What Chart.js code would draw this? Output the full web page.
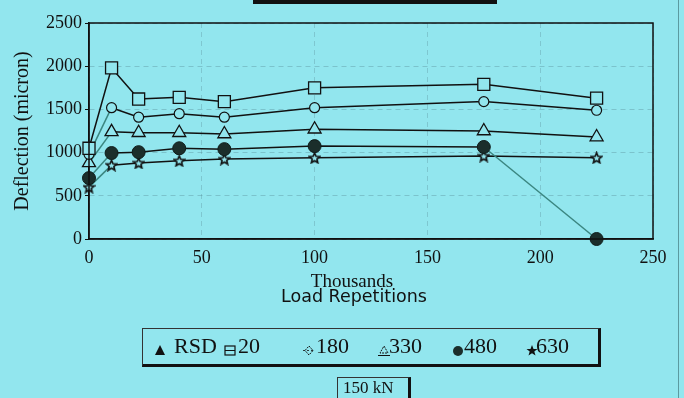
<!DOCTYPE html>
<html>
<head>
<meta charset="utf-8">
<script src="https://cdn.jsdelivr.net/npm/chart.js@4/dist/chart.umd.min.js"></script>
<style>
  html, body { margin: 0; padding: 0; }
  body { width: 684px; height: 398px; background: #92e6ee; position: relative; overflow: hidden;
         font-family: "Liberation Serif", "Times New Roman", serif; color: #111; }
  #wrap { position: absolute; left: 0; top: 0; width: 684px; height: 398px; }
  .abs { position: absolute; white-space: nowrap; }
  #topbar { left: 253px; top: 0; width: 244px; height: 4px; background: #111; }
  #edge { left: 678px; top: 0; width: 1px; height: 398px; background: #5b9aa0; }
  #thousands { left: 352px; top: 281px; transform: translate(-50%, -50%); font-size: 19px; }
  #xtitle { left: 354px; top: 296px; transform: translate(-50%, -50%); font-size: 17.5px;
            font-family: "DejaVu Sans", sans-serif; }
  #legend { left: 142px; top: 328px; width: 455px; height: 35px; border-left: 1px solid #333;
            border-top: 1px solid #333; border-right: 3px solid #111; border-bottom: 3px solid #111; }
  .ltext { position: absolute; top: 17px; transform: translateY(-50%); font-size: 22px; }
  .licon { position: absolute; top: 14px; }
  #kn { left: 337px; top: 377px; width: 70px; height: 21px; border-left: 1px solid #333;
        border-top: 1px solid #333; border-right: 3px solid #111; font-size: 17px; }
  #kn span { position: absolute; left: 5px; top: 0px; }
</style>
</head>
<body>
<div id="wrap"><canvas id="c" width="684" height="398"></canvas></div>
<div id="topbar" class="abs"></div>
<div id="edge" class="abs"></div>
<div id="thousands" class="abs">Thousands</div>
<div id="xtitle" class="abs">Load Repetitions</div>
<div id="legend" class="abs"></div>
<div id="kn" class="abs"><span>150 kN</span></div>
<script>
// ---------------- data ----------------
const loadReps = [0, 10, 22, 40, 60, 100, 175, 225];           // thousands
const seriesNames = ["RSD", "20", "180", "330", "480", "630"];
const deflRSD = [];
const defl20  = [1050, 1980, 1620, 1640, 1590, 1750, 1790, 1630];
const defl180 = [980, 1520, 1410, 1450, 1410, 1520, 1590, 1490];
const defl330 = [880, 1240, 1230, 1230, 1215, 1270, 1250, 1180];
const defl480 = [705, 995, 1005, 1050, 1040, 1075, 1065, 0];
const defl630 = [600, 855, 880, 905, 925, 940, 960, 940];
const xTicks = [0, 50, 100, 150, 200, 250];
const yTicks = [0, 500, 1000, 1500, 2000, 2500];

// ---------------- styling ----------------
const BG = '#92e6ee';
const INK = '#111';
const TEAL = '#3b8680';
const serif = '"Liberation Serif", "Times New Roman", serif';

function pts(arr) { return arr.map((v, i) => ({ x: loadReps[i], y: v })); }

function starImage(size, fill, stroke) {
  const c = document.createElement('canvas');
  c.width = size; c.height = size;
  const g = c.getContext('2d');
  const cx = size / 2, cy = size / 2 + 0.5, R = size / 2 - 1, r = R * 0.45;
  g.beginPath();
  for (let k = 0; k < 10; k++) {
    const ang = -Math.PI / 2 + k * Math.PI / 5;
    const rad = k % 2 === 0 ? R : r;
    const px = cx + rad * Math.cos(ang), py = cy + rad * Math.sin(ang);
    k === 0 ? g.moveTo(px, py) : g.lineTo(px, py);
  }
  g.closePath();
  g.fillStyle = fill; g.fill();
  g.lineWidth = 1.6; g.strokeStyle = stroke; g.stroke();
  return c;
}
const starPt = starImage(13, BG, INK);

function firstSegTeal(extraIdx) {
  return { borderColor: ctx => (ctx.p0DataIndex === 0 || ctx.p0DataIndex === extraIdx) ? TEAL : INK };
}

const datasets = [
  { label: seriesNames[0], data: pts(deflRSD), pointStyle: 'triangle', backgroundColor: INK, borderColor: INK },
  { label: seriesNames[1], data: pts(defl20), pointStyle: 'rect', pointRadius: 8.5,
    pointBackgroundColor: BG, pointBorderColor: INK, borderColor: INK, pointBorderWidth: 1.3 },
  { label: seriesNames[2], data: pts(defl180), pointStyle: 'circle', pointRadius: 5,
    pointBackgroundColor: BG, pointBorderColor: INK, borderColor: INK, pointBorderWidth: 1.2,
    segment: firstSegTeal(-1) },
  { label: seriesNames[3], data: pts(defl330), pointStyle: 'triangle', pointRadius: 7.5,
    pointBackgroundColor: BG, pointBorderColor: INK, borderColor: INK, pointBorderWidth: 1.3,
    segment: firstSegTeal(-1) },
  { label: seriesNames[4], data: pts(defl480), pointStyle: 'circle', pointRadius: 6.5,
    pointBackgroundColor: '#1b2e2b', pointBorderColor: '#0f1c1a', borderColor: INK, pointBorderWidth: 1,
    segment: firstSegTeal(6) },
  { label: seriesNames[5], data: pts(defl630), pointStyle: starPt,
    pointBackgroundColor: BG, pointBorderColor: INK, borderColor: INK,
    segment: firstSegTeal(-1) }
].map(d => Object.assign({ showLine: true, borderWidth: 1.5, clip: false, tension: 0 }, d));

const frame = {
  id: 'frame',
  afterDatasetsDraw(chart) {
    const a = chart.chartArea, g = chart.ctx;
    g.save();
    g.strokeStyle = INK; g.lineWidth = 1.5;
    g.strokeRect(a.left, a.top, a.right - a.left, a.bottom - a.top);
    g.restore();
  }
};

new Chart(document.getElementById('c'), {
  type: 'scatter',
  data: { datasets },
  options: {
    responsive: false,
    animation: false,
    layout: { padding: { left: 0, top: 23, right: 31, bottom: 0 } },
    plugins: { legend: { display: false }, tooltip: { enabled: false } },
    scales: {
      x: {
        type: 'linear', min: 0, max: 250,
        afterBuildTicks: s => { s.ticks = xTicks.map(v => ({ value: v })); },
        afterFit: s => { s.height = 159; },
        ticks: { color: INK, font: { family: serif, size: 18 }, padding: 8, maxRotation: 0,
                 callback: v => String(v) },
        grid: { color: 'rgba(80,130,140,0.3)', lineWidth: 1, drawTicks: false },
        border: { color: INK, width: 1.5, dash: [5, 4] }
      },
      y: {
        type: 'linear', min: 0, max: 2500,
        afterBuildTicks: s => { s.ticks = yTicks.map(v => ({ value: v })); },
        afterFit: s => { s.width = 89; },
        ticks: { color: INK, font: { family: serif, size: 18 }, padding: 3,
                 callback: v => String(v) },
        grid: { color: 'rgba(80,130,140,0.35)', lineWidth: 1, tickColor: INK, tickLength: 4,
                tickBorderDash: [] },
        border: { color: INK, width: 1.5, dash: [5, 4] },
        title: { display: true, text: 'Deflection (micron)', color: INK,
                 font: { family: serif, size: 20 }, padding: { top: 11, bottom: 0 } }
      }
    }
  },
  plugins: [frame]
});

// ---------------- legend (HTML, built from seriesNames) ----------------
const legendIconX = [10, 80, 159, 234, 308, 382];
const legendTextX = [31, 95, 173, 246, 321, 393];
function icon(name) {
  const s = (inner) => `<svg width="14" height="14" viewBox="0 0 14 14">${inner}</svg>`;
  switch (name) {
    case 'RSD': return s('<polygon points="7,2 12,12 2,12" fill="#111"/>');
    case '20':  return s('<rect x="2" y="3" width="10" height="9" fill="none" stroke="#111" stroke-width="1.2"/><line x1="2" y1="7.5" x2="12" y2="7.5" stroke="#111" stroke-width="1"/>');
    case '180': return s('<polygon points="7,3 11,7.5 7,12 3,7.5" fill="none" stroke="#111" stroke-width="1" stroke-dasharray="2,1"/><line x1="1" y1="7.5" x2="13" y2="7.5" stroke="#111" stroke-width="0.8" stroke-dasharray="2,2"/>');
    case '330': return s('<polygon points="7,3 11,10 3,10" fill="none" stroke="#111" stroke-width="1" stroke-dasharray="2,1"/><line x1="1" y1="12.5" x2="13" y2="12.5" stroke="#111" stroke-width="1"/>');
    case '480': return s('<circle cx="7" cy="8" r="5" fill="#1b2e2b"/>');
    case '630': return s('<polygon points="7,2 8.5,6 12.5,6 9.3,8.6 10.5,12.5 7,10.2 3.5,12.5 4.7,8.6 1.5,6 5.5,6" fill="#111"/>');
  }
  return '';
}
const leg = document.getElementById('legend');
seriesNames.forEach((n, i) => {
  const ic = document.createElement('div');
  ic.className = 'licon'; ic.style.left = legendIconX[i] + 'px'; ic.innerHTML = icon(n);
  const tx = document.createElement('div');
  tx.className = 'ltext'; tx.style.left = legendTextX[i] + 'px'; tx.textContent = n;
  leg.appendChild(ic); leg.appendChild(tx);
});
</script>
</body>
</html>
